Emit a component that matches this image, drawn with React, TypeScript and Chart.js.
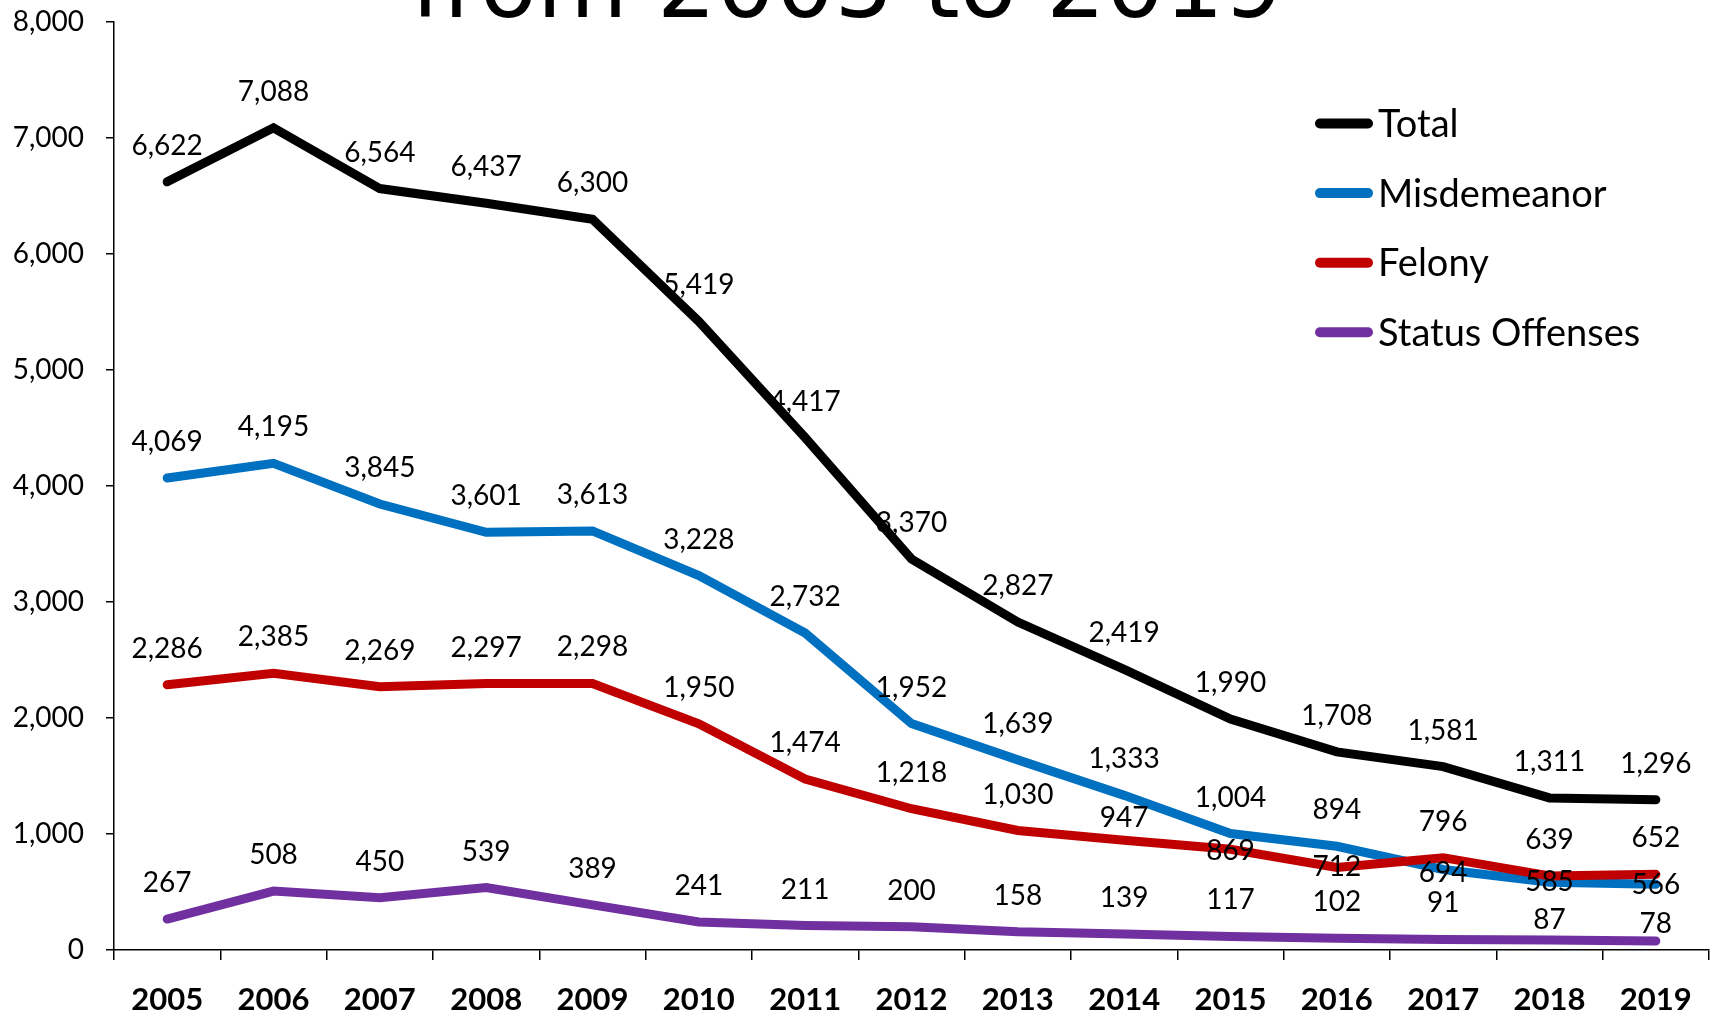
import { useEffect, useRef } from 'react';
import { Chart, registerables } from 'chart.js';

Chart.register(...registerables);

const years = ['2005', '2006', '2007', '2008', '2009', '2010', '2011', '2012', '2013', '2014', '2015', '2016', '2017', '2018', '2019'];
const totalValues = [6622, 7088, 6564, 6437, 6300, 5419, 4417, 3370, 2827, 2419, 1990, 1708, 1581, 1311, 1296];
const misdemeanorValues = [4069, 4195, 3845, 3601, 3613, 3228, 2732, 1952, 1639, 1333, 1004, 894, 694, 585, 566];
const felonyValues = [2286, 2385, 2269, 2297, 2298, 1950, 1474, 1218, 1030, 947, 869, 712, 796, 639, 652];
const statusValues = [267, 508, 450, 539, 389, 241, 211, 200, 158, 139, 117, 102, 91, 87, 78];
const seriesNames = ['Total', 'Misdemeanor', 'Felony', 'Status Offenses'];
const seriesColors = ['#000000', '#0070C0', '#C00000', '#7030A0'];
const yMin = 0;
const yMax = 8000;
const yStep = 1000;
const titleText = 'from 2005 to 2019';

const FONT = 'Lato, "Open Sans", sans-serif';

// label vertical offsets (px relative to the point); default above the point
const DEFAULT_LABEL_DY = -36;
const labelOverrides: Record<number, Record<number, number>> = {
  1: { 12: 3, 13: 0, 14: 1 },
  2: { 9: -22, 10: 2, 11: 0 },
  3: { 13: -20, 14: -17 },
};

const titlePlugin = {
  id: 'clippedTitle',
  afterDraw(chart: any) {
    const ctx = chart.ctx;
    ctx.save();
    ctx.fillStyle = '#000';
    ctx.font = '93px "DejaVu Sans"';
    ctx.textAlign = 'center';
    ctx.textBaseline = 'alphabetic';
    ctx.fillText(titleText, 847, 17);
    ctx.restore();
  },
};

const dataLabelPlugin = {
  id: 'valueLabels',
  afterDatasetsDraw(chart: any) {
    const ctx = chart.ctx;
    ctx.save();
    ctx.fillStyle = '#000';
    ctx.font = `28px ${FONT}`;
    ctx.textAlign = 'center';
    ctx.textBaseline = 'middle';
    chart.data.datasets.forEach((ds: any, di: number) => {
      const meta = chart.getDatasetMeta(di);
      meta.data.forEach((pt: any, i: number) => {
        const v = ds.data[i] as number;
        const ov = labelOverrides[di];
        const dy = ov && ov[i] !== undefined ? ov[i] : DEFAULT_LABEL_DY;
        ctx.fillText(v.toLocaleString('en-US'), pt.x, pt.y + dy);
      });
    });
    ctx.restore();
  },
};

const legendPlugin = {
  id: 'sideLegend',
  afterDraw(chart: any) {
    const ctx = chart.ctx;
    ctx.save();
    chart.data.datasets.forEach((ds: any, i: number) => {
      const y = 123.5 + 69.6 * i;
      ctx.strokeStyle = ds.borderColor;
      ctx.lineWidth = 10;
      ctx.lineCap = 'round';
      ctx.beginPath();
      ctx.moveTo(1320, y);
      ctx.lineTo(1368, y);
      ctx.stroke();
      ctx.fillStyle = '#000';
      ctx.font = `38px ${FONT}`;
      ctx.textAlign = 'left';
      ctx.textBaseline = 'alphabetic';
      ctx.fillText(ds.label, 1378, y + 13.5);
    });
    ctx.restore();
  },
};

export default function App() {
  const canvasRef = useRef<HTMLCanvasElement | null>(null);

  useEffect(() => {
    if (!canvasRef.current) return;
    const seriesValues = [totalValues, misdemeanorValues, felonyValues, statusValues];
    const chart = new Chart(canvasRef.current, {
      type: 'line',
      data: {
        labels: years,
        datasets: seriesValues.map((vals, i) => ({
          label: seriesNames[i],
          data: vals,
          borderColor: seriesColors[i],
          backgroundColor: seriesColors[i],
          borderWidth: 9,
          borderCapStyle: 'round' as const,
          borderJoinStyle: 'miter' as const,
          pointRadius: 0,
          pointHoverRadius: 0,
          tension: 0,
          fill: false,
          order: 4 - i,
        })),
      },
      options: {
        responsive: false,
        animation: false,
        devicePixelRatio: 1,
        layout: { padding: { top: 22, right: 9, left: 0, bottom: 0 } },
        plugins: {
          legend: { display: false },
          title: { display: false },
          tooltip: { enabled: false },
        },
        events: [],
        scales: {
          x: {
            type: 'category',
            offset: true,
            grid: {
              display: true,
              drawOnChartArea: false,
              drawTicks: true,
              tickLength: 10,
              color: '#000',
              lineWidth: 1.5,
              offset: true,
            },
            border: { display: true, color: '#000', width: 1.5 },
            ticks: {
              color: '#000',
              font: { family: FONT, size: 31, weight: 'bold' },
              padding: 21,
              maxRotation: 0,
              autoSkip: false,
            },
            afterFit: (s: any) => {
              s.height = 64;
              s.paddingLeft = 0;
              s.paddingRight = 0;
            },
          },
          y: {
            min: yMin,
            max: yMax,
            ticks: {
              stepSize: yStep,
              color: '#000',
              font: { family: FONT, size: 28 },
              padding: 22,
              callback: (v: any) => Number(v).toLocaleString('en-US'),
            },
            grid: {
              display: true,
              drawOnChartArea: false,
              tickLength: 8,
              color: '#000',
              lineWidth: 1.5,
            },
            border: { display: true, color: '#000', width: 1.5 },
            afterFit: (s: any) => {
              s.width = 114;
              s.paddingTop = 0;
              s.paddingBottom = 0;
            },
          },
        },
      },
      plugins: [dataLabelPlugin, legendPlugin, titlePlugin],
    } as any);
    return () => chart.destroy();
  }, []);

  return (
    <div style={{ position: 'fixed', left: 0, top: 0, width: 1718, height: 1014, background: '#fff' }}>
      <canvas ref={canvasRef} width={1718} height={1014} style={{ display: 'block' }} />
    </div>
  );
}
